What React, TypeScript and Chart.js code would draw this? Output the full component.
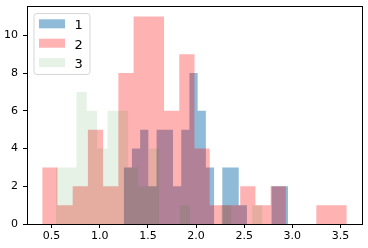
import React, { useEffect, useRef } from "react";
import { Chart, registerables } from "chart.js";

Chart.register(...registerables);

// ---- data ----
const seriesLabels = ["1", "2", "3"];
// histogram counts per bin (20 bins each)
const counts1 = [3, 4, 5, 2, 5, 5, 2, 5, 8, 6, 3, 0, 3, 3, 1, 0, 0, 0, 2, 2];
const counts2 = [3, 1, 2, 5, 2, 8, 11, 11, 6, 9, 4, 1, 1, 2, 1, 2, 0, 0, 1, 1];
const counts3 = [3, 3, 7, 6, 4, 6, 6, 3, 2, 4, 0, 0, 1, 0, 0, 0, 1, 0, 0, 1];
// data range (first edge, last edge) of each histogram
const range1 = [1.249, 2.955];
const range2 = [0.403, 3.565];
const range3 = [0.544, 2.69];
const xTicks = [0.5, 1.0, 1.5, 2.0, 2.5, 3.0, 3.5];
const yTicks = [0, 2, 4, 6, 8, 10];
const xLimits = [0.245, 3.723];
const yLimits = [0, 11.55];

const seriesColors = [
  "rgba(31,119,180,0.5)",
  "rgba(255,0,0,0.3)",
  "rgba(0,128,0,0.1)",
];

// bin edges + counts -> stepped outline points
function histPoints(counts: number[], range: number[]) {
  const n = counts.length;
  const w = (range[1] - range[0]) / n;
  const pts = counts.map((c, i) => ({ x: range[0] + i * w, y: c }));
  pts.push({ x: range[1], y: counts[n - 1] });
  return pts;
}

const framePlugin = {
  id: "frameAndLegend",
  afterDraw(chart: any) {
    const { ctx, chartArea: a } = chart;
    ctx.save();
    // axes frame (spines)
    ctx.strokeStyle = "#000";
    ctx.lineWidth = 1;
    ctx.strokeRect(a.left + 0.5, a.top + 0.5, a.right - a.left, a.bottom - a.top);

    // legend
    const L = a.left;
    const T = a.top;
    ctx.beginPath();
    (ctx as any).roundRect(L + 7, T + 7.5, 56, 61, 3);
    ctx.fillStyle = "rgba(255,255,255,0.8)";
    ctx.fill();
    ctx.strokeStyle = "rgba(204,204,204,0.8)";
    ctx.lineWidth = 1;
    ctx.stroke();
    chart.data.datasets.forEach((ds: any, i: number) => {
      const top = T + 13.3 + i * 19.4;
      ctx.fillStyle = ds.backgroundColor;
      ctx.fillRect(L + 12, top, 26, 9);
      ctx.fillStyle = "#000";
      ctx.font = '13px "DejaVu Sans"';
      ctx.textBaseline = "alphabetic";
      ctx.textAlign = "left";
      ctx.fillText(ds.label, L + 47.5, top + 10);
    });
    ctx.restore();
  },
};

export default function App() {
  const ref = useRef<HTMLCanvasElement | null>(null);

  useEffect(() => {
    if (!ref.current) return;
    const allCounts = [counts1, counts2, counts3];
    const allRanges = [range1, range2, range3];
    const tickFont = { family: "DejaVu Sans", size: 11 };
    const chart = new Chart(ref.current, {
      type: "line",
      data: {
        datasets: seriesLabels.map((label, i) => ({
          label,
          data: histPoints(allCounts[i], allRanges[i]),
          stepped: true,
          fill: "origin",
          backgroundColor: seriesColors[i],
          borderColor: "transparent",
          borderWidth: 0,
          pointRadius: 0,
          pointHoverRadius: 0,
          order: 3 - i,
        })),
      },
      options: {
        animation: false,
        responsive: false,
        devicePixelRatio: 1,
        layout: { padding: { top: 6, right: 6, left: 0, bottom: 0 } },
        plugins: {
          legend: { display: false },
          tooltip: { enabled: false },
        },
        scales: {
          x: {
            type: "linear",
            min: xLimits[0],
            max: xLimits[1],
            afterBuildTicks: (s: any) => {
              s.ticks = xTicks.map((v) => ({ value: v }));
            },
            afterFit: (s: any) => {
              s.height = 24;
              s.paddingLeft = 0;
              s.paddingRight = 0;
            },
            ticks: {
              callback: (v: any) => Number(v).toFixed(1),
              font: tickFont,
              color: "#000",
              padding: 2,
              maxRotation: 0,
              autoSkip: false,
            },
            grid: {
              display: true,
              drawOnChartArea: false,
              drawTicks: true,
              tickLength: 4,
              color: "#000",
              lineWidth: 1,
            },
            border: { display: false },
          },
          y: {
            type: "linear",
            min: yLimits[0],
            max: yLimits[1],
            afterBuildTicks: (s: any) => {
              s.ticks = yTicks.map((v) => ({ value: v }));
            },
            afterFit: (s: any) => {
              s.width = 27;
              s.paddingTop = 0;
              s.paddingBottom = 0;
            },
            ticks: {
              callback: (v: any) => String(v),
              font: tickFont,
              color: "#000",
              padding: 5,
              autoSkip: false,
            },
            grid: {
              display: true,
              drawOnChartArea: false,
              drawTicks: true,
              tickLength: 4,
              color: "#000",
              lineWidth: 1,
            },
            border: { display: false },
          },
        },
      } as any,
      plugins: [framePlugin],
    });
    return () => chart.destroy();
  }, []);

  return (
    <div style={{ position: "absolute", left: 0, top: 0, width: 368, height: 248, background: "#fff" }}>
      <canvas ref={ref} width={368} height={248} style={{ display: "block" }} />
    </div>
  );
}
